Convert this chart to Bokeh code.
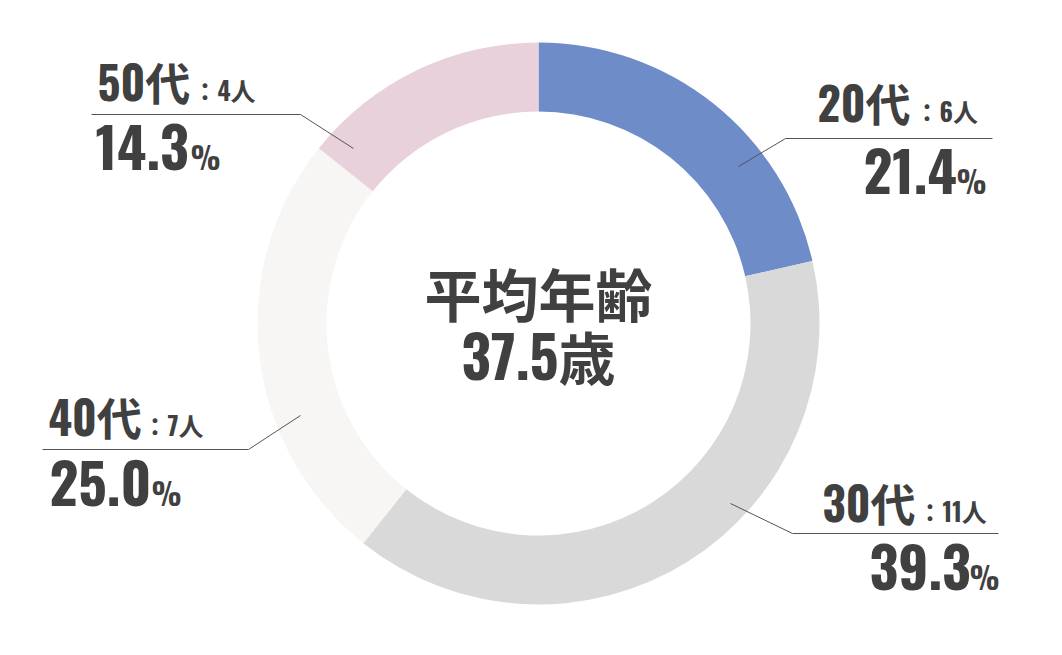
import math
from bokeh.plotting import figure
from bokeh.models import Range1d, ColumnDataSource
from bokeh.core.properties import value
from bokeh.embed import file_html
from bokeh.resources import INLINE

# ---- data ----
categories = ["20代", "30代", "40代", "50代"]
counts = [6, 11, 7, 4]
percents = [21.4, 39.3, 25.0, 14.3]
colors = ["#6e8cc8", "#d9d9d9", "#f8f6f4", "#e9d1dc"]
center_title = "平均年齢"
average_age = "37.5歳"

# ---- layout (page pixels) ----
W, H = 1046, 639
CX, CY = 538, 323
R_IN, R_OUT = 212, 281
# name left x, name baseline, count left x, pct left x, pct baseline, % left x
label_pos = [
    (817, 123, 914, 863, 196, 956),
    (822, 523, 917, 869, 592, 969),
    (48, 437, 142, 49, 508, 151),
    (97, 102, 192, 95, 172, 190),
]
# leader point on ring, corner, far end, y of horizontal line
leaders = [
    ((738, 166), 785, 992, 138),
    ((730, 503), 792, 998, 533),
    ((300, 415), 248, 42, 449),
    ((353, 148), 300, 91, 114),
]

NAME_FS, COUNT_FS, PCT_FS, SIGN_FS, AGE_FS = 45, 25, 56, 30, 57
TXT = "#404040"
NUMFONT = value("Oswald, Noto Sans CJK JP")
CJK = value("Noto Sans CJK JP")


def base(y, fs, k=0.49):
    # page baseline -> data y (compensates the renderer's baseline offset)
    return -(y - k * fs)


p = figure(width=W, height=H, x_range=Range1d(0, W), y_range=Range1d(-H, 0),
           output_backend="svg", toolbar_location=None, min_border=0)
p.axis.visible = False
p.grid.visible = False
p.outline_line_color = None
p.background_fill_color = "white"
p.border_fill_color = "white"

total = sum(counts)
starts, ends = [], []
cum = 0
for c in counts:
    starts.append(math.pi / 2 - 2 * math.pi * cum / total)
    cum += c
    ends.append(math.pi / 2 - 2 * math.pi * cum / total)
src = ColumnDataSource(dict(start=starts, end=ends, color=colors, cat=categories))
p.annular_wedge(x=CX, y=-CY, inner_radius=R_IN, outer_radius=R_OUT,
                inner_radius_units="screen", outer_radius_units="screen",
                start_angle="start", end_angle="end", direction="clock",
                fill_color="color", line_color=None, source=src)

# leader lines
xs, ys = [], []
for (pt, corner, far, ly) in leaders:
    xs.append([pt[0], corner, far])
    ys.append([-pt[1], -ly, -ly])
p.multi_line(xs=xs, ys=ys, line_color="#555555", line_width=1)

# labels
for i, cat in enumerate(categories):
    nx, nb, cx, px, pb, sx = label_pos[i]
    p.text(x=[nx], y=[base(nb, NAME_FS)], text=[cat], text_font=NUMFONT, text_font_style="bold",
           text_font_size=f"{NAME_FS}px", text_color=TXT, text_baseline="alphabetic", text_align="left")
    p.text(x=[cx], y=[base(nb, COUNT_FS, 0.53)], text=[f"：{counts[i]}人"], text_font=NUMFONT,
           text_font_style="bold", text_font_size=f"{COUNT_FS}px", text_color=TXT,
           text_baseline="alphabetic", text_align="left")
    p.text(x=[px], y=[base(pb, PCT_FS, 0.44)], text=[f"{percents[i]:.1f}"], text_font=NUMFONT,
           text_font_style="bold", text_font_size=f"{PCT_FS}px", text_color=TXT,
           text_baseline="alphabetic", text_align="left")
    p.text(x=[sx], y=[base(pb, SIGN_FS, 0.55)], text=["%"], text_font=NUMFONT, text_font_style="bold",
           text_font_size=f"{SIGN_FS}px", text_color=TXT, text_baseline="alphabetic", text_align="left")

# center
p.text(x=[CX], y=[-291], text=[center_title], text_font=CJK, text_font_style="bold",
       text_font_size="57px", text_color=TXT, text_baseline="middle", text_align="center")
p.text(x=[CX], y=[base(382, AGE_FS, 0.5)], text=[average_age], text_font=NUMFONT, text_font_style="bold",
       text_font_size=f"{AGE_FS}px", text_color=TXT, text_baseline="alphabetic", text_align="center")

open("out.html", "w").write(file_html(p, INLINE))
